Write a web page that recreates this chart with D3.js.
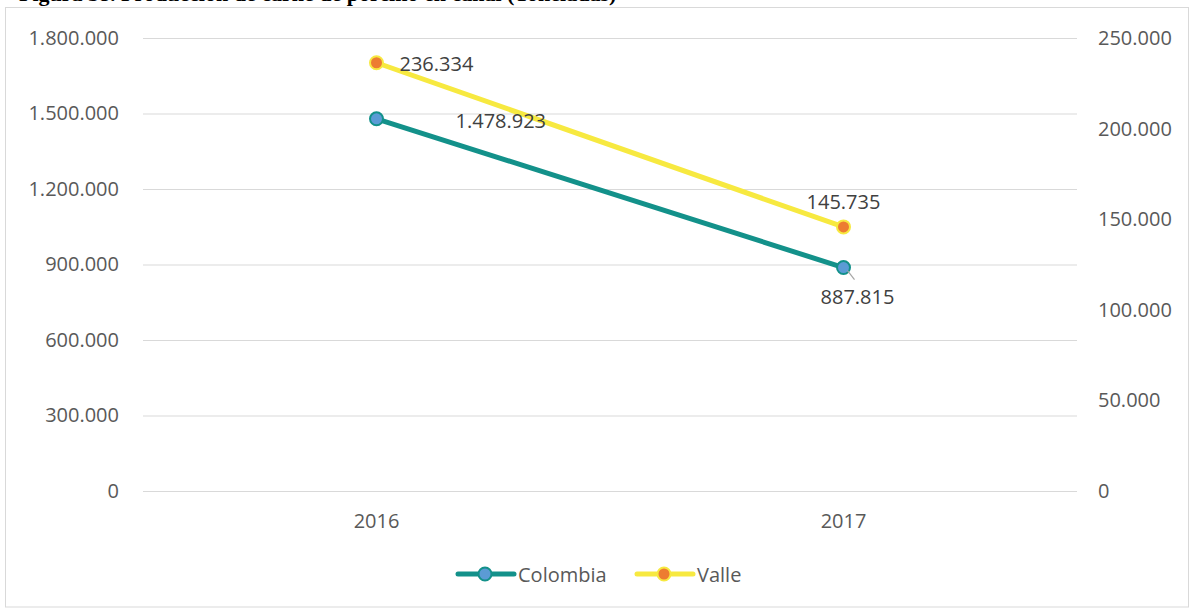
<!DOCTYPE html>
<html><head><meta charset="utf-8">
<script src="https://cdn.jsdelivr.net/npm/d3@7"></script>
<style>
body{margin:0;background:#fff;}
svg{display:block;}
</style></head>
<body>
<svg id="c" width="1190" height="608"></svg>
<script>
const title = "Figura 38. Producción de carne de porcino en canal (Toneladas)";
const years = ["2016", "2017"];
const colombia = [1478923, 887815];
const valle = [236334, 145735];
const leftTicks = [0, 300000, 600000, 900000, 1200000, 1500000, 1800000];
const rightTicks = [0, 50000, 100000, 150000, 200000, 250000];
const seriesNames = ["Colombia", "Valle"];

const loc = d3.formatLocale({decimal: ",", thousands: ".", grouping: [3], currency: ["$", ""]});
const fmt = loc.format(",d");

const svg = d3.select("#c");
const W = 1190, H = 608;
const m = {l: 143, r: 1077, t: 38, b: 491};
const font = "'Open Sans', sans-serif";
const fs = 20;

svg.append("rect").attr("width", W).attr("height", H).attr("fill", "#fff");

// cropped title (only its lower edge is visible, as in the reference)
svg.append("text").attr("x", 19).attr("y", 1)
  .attr("font-family", "'Liberation Serif', serif").attr("font-weight", "bold")
  .attr("font-size", 22).attr("fill", "#000").text(title);

// frame
svg.append("rect").attr("x", 5.5).attr("y", 7.5).attr("width", W - 7).attr("height", H - 8.5)
  .attr("fill", "none").attr("stroke", "#d9d9d9").attr("stroke-width", 1);

const x = d3.scaleBand().domain(years).range([m.l, m.r]).padding(0);
const yL = d3.scaleLinear().domain([0, 1800000]).range([m.b, m.t]);
const yR = d3.scaleLinear().domain([0, 250000]).range([m.b, m.t]);
const cx = d => x(d) + x.bandwidth() / 2;

// gridlines
const grid = svg.append("g").attr("transform", `translate(${m.l},0)`)
  .call(d3.axisLeft(yL).tickValues(leftTicks).tickSize(-(m.r - m.l)).tickFormat(""));
grid.select(".domain").remove();
grid.selectAll("line").attr("stroke", "#d9d9d9").attr("stroke-width", 1);

// left axis
const ax = svg.append("g").attr("transform", `translate(${m.l},0)`)
  .call(d3.axisLeft(yL).tickValues(leftTicks).tickSize(0).tickPadding(24).tickFormat(fmt));
ax.select(".domain").remove();
ax.selectAll("text").attr("font-family", font).attr("font-size", fs).attr("fill", "#595959");

// right axis
const ar = svg.append("g").attr("transform", `translate(${m.r},0)`)
  .call(d3.axisRight(yR).tickValues(rightTicks).tickSize(0).tickPadding(21).tickFormat(fmt));
ar.select(".domain").remove();
ar.selectAll("text").attr("font-family", font).attr("font-size", fs).attr("fill", "#595959");

// x axis
const axb = svg.append("g").attr("transform", `translate(0,${m.b})`)
  .call(d3.axisBottom(x).tickSize(0).tickPadding(23));
axb.select(".domain").remove();
axb.selectAll("text").attr("font-family", font).attr("font-size", fs).attr("fill", "#595959");

const colTeal = "#13918a", colBlue = "#5b9bd5", colYel = "#f7e940", colOr = "#ed7d31";

// Colombia line
const lineL = d3.line().x((d, i) => cx(years[i])).y(d => yL(d));
svg.append("path").datum(colombia).attr("d", lineL).attr("fill", "none")
  .attr("stroke", colTeal).attr("stroke-width", 5).attr("stroke-linecap", "round");
// Valle line
const lineR = d3.line().x((d, i) => cx(years[i])).y(d => yR(d));
svg.append("path").datum(valle).attr("d", lineR).attr("fill", "none")
  .attr("stroke", colYel).attr("stroke-width", 5).attr("stroke-linecap", "round");

// markers
svg.selectAll(".mc").data(colombia).enter().append("circle")
  .attr("cx", (d, i) => cx(years[i])).attr("cy", d => yL(d)).attr("r", 6.5)
  .attr("fill", colBlue).attr("stroke", colTeal).attr("stroke-width", 2);
svg.selectAll(".mv").data(valle).enter().append("circle")
  .attr("cx", (d, i) => cx(years[i])).attr("cy", d => yR(d)).attr("r", 6.5)
  .attr("fill", colOr).attr("stroke", colYel).attr("stroke-width", 2);

// leader line for 887.815
svg.append("line").attr("x1", cx(years[1]) + 4).attr("y1", yL(colombia[1]) + 3)
  .attr("x2", cx(years[1]) + 11).attr("y2", yL(colombia[1]) + 12)
  .attr("stroke", "#a6a6a6").attr("stroke-width", 1.2);

// data labels
const lab = (xp, yp, t, anchor) => svg.append("text").attr("x", xp).attr("y", yp)
  .attr("text-anchor", anchor).attr("dominant-baseline", "central")
  .attr("font-family", font).attr("font-size", fs).attr("fill", "#404040").text(t);
lab(cx(years[0]) + 23, yR(valle[0]) + 1, fmt(valle[0]), "start");
lab(cx(years[0]) + 79, yL(colombia[0]) + 2, fmt(colombia[0]), "start");
lab(cx(years[1]), yR(valle[1]) - 25, fmt(valle[1]), "middle");
lab(cx(years[1]) + 14, yL(colombia[1]) + 29, fmt(colombia[1]), "middle");

// legend
const leg = [
  {name: seriesNames[0], line: colTeal, fill: colBlue, x0: 458, tx: 518},
  {name: seriesNames[1], line: colYel, fill: colOr, x0: 637, tx: 697}
];
const ly = 574;
leg.forEach(l => {
  svg.append("line").attr("x1", l.x0).attr("x2", l.x0 + 56).attr("y1", ly).attr("y2", ly)
    .attr("stroke", l.line).attr("stroke-width", 5).attr("stroke-linecap", "round");
  svg.append("circle").attr("cx", l.x0 + 27).attr("cy", ly).attr("r", 6.5)
    .attr("fill", l.fill).attr("stroke", l.line).attr("stroke-width", 2);
  svg.append("text").attr("x", l.tx).attr("y", ly).attr("dominant-baseline", "central")
    .attr("font-family", font).attr("font-size", fs).attr("fill", "#595959").text(l.name);
});
</script>
</body></html>
